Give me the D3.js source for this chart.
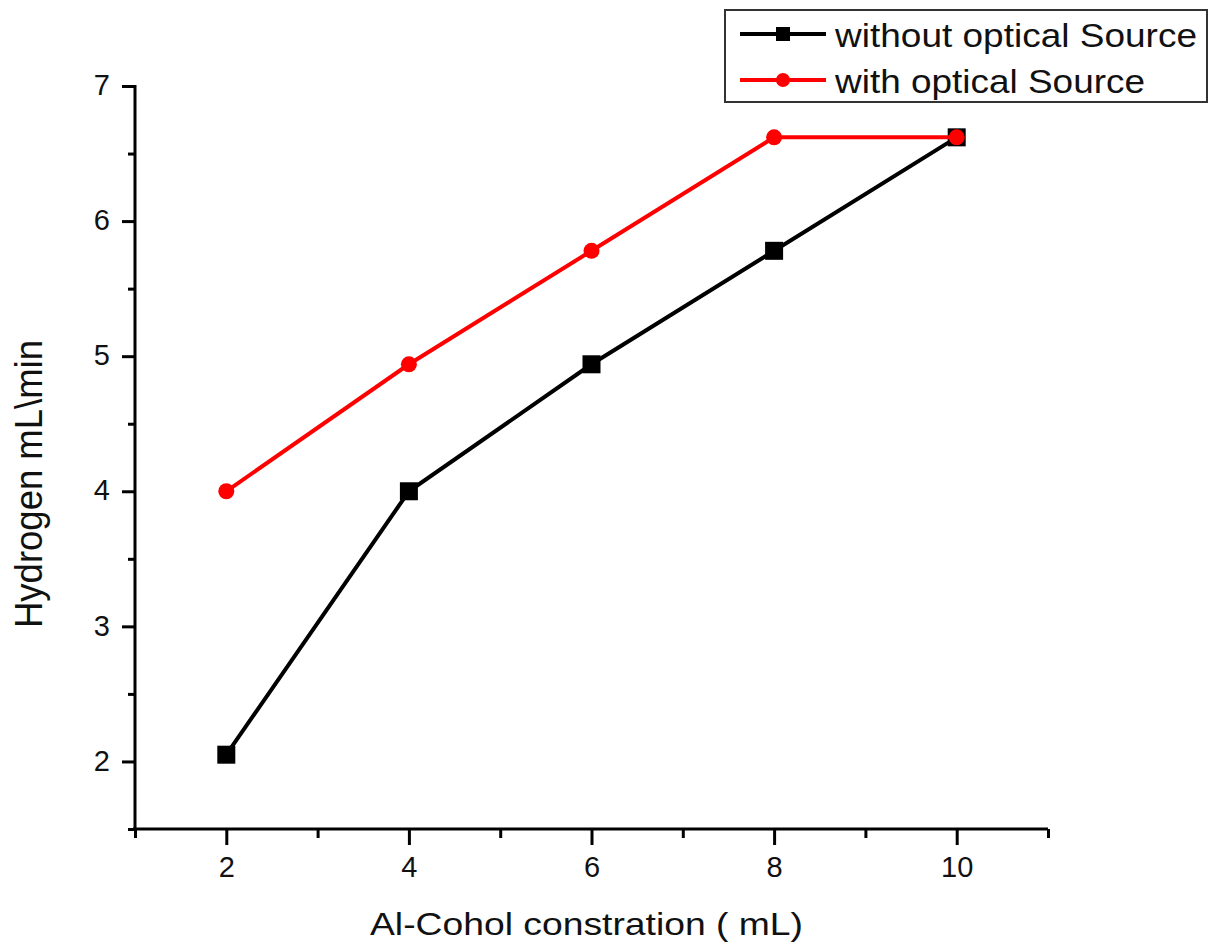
<!DOCTYPE html>
<html>
<head>
<meta charset="utf-8">
<script src="https://cdn.jsdelivr.net/npm/d3@7"></script>
<style>
  html, body { margin: 0; padding: 0; background: #fff; }
  svg { display: block; font-family: Arial, "Liberation Sans", sans-serif; }
</style>
</head>
<body>
<script>
(function(){
'use strict';

// data
var concentration = [2, 4, 6, 8, 10];
var withoutSource = [2.05, 4.0, 4.94, 5.78, 6.62];
var withSource = [4.0, 4.94, 5.78, 6.62, 6.62];
var seriesNames = ['without optical Source', 'with optical Source'];
var xTicks = [2, 4, 6, 8, 10];
var yTicks = [2, 3, 4, 5, 6, 7];

var W = 1208, H = 946;
var left = 135, right = 1048, top = 86, bottom = 829;
var FONT = 'Arial, "Liberation Sans", sans-serif';

var svg = d3.select('body').append('svg')
	.attr('width', W)
	.attr('height', H);

var x = d3.scaleLinear().domain([1, 11]).range([left, right]);
var y = d3.scaleLinear().domain([1.5, 7]).range([bottom, top]);

// minor ticks first, then the major axis on top
var xMinor = d3.range(1, 12, 2);
var yMinor = d3.range(1.5, 7, 1);

svg.append('g')
	.attr('transform', 'translate(0,' + bottom + ')')
	.call(d3.axisBottom(x).tickValues(xMinor).tickSize(9).tickFormat(''))
	.call(function(g){ g.select('.domain').remove(); })
	.selectAll('line').attr('stroke-width', 3);

svg.append('g')
	.attr('transform', 'translate(' + left + ',0)')
	.call(d3.axisLeft(y).tickValues(yMinor).tickSize(7).tickFormat(''))
	.call(function(g){ g.select('.domain').remove(); })
	.selectAll('line').attr('stroke-width', 3);

var xAxis = svg.append('g')
	.attr('transform', 'translate(0,' + bottom + ')')
	.call(d3.axisBottom(x).tickValues(xTicks).tickSize(16).tickSizeOuter(0).tickPadding(11).tickFormat(d3.format('d')));
xAxis.attr('font-family', FONT).attr('font-size', 29);
xAxis.select('.domain').attr('stroke-width', 3).attr('d', 'M' + (left - 2) + ',0H' + right);
xAxis.selectAll('.tick line').attr('stroke-width', 3);
xAxis.selectAll('text').attr('fill', '#111');

var yAxis = svg.append('g')
	.attr('transform', 'translate(' + left + ',0)')
	.call(d3.axisLeft(y).tickValues(yTicks).tickSize(13).tickSizeOuter(0).tickPadding(12).tickFormat(d3.format('d')));
yAxis.attr('font-family', FONT).attr('font-size', 29);
yAxis.select('.domain').attr('stroke-width', 3).attr('d', 'M0,' + (top - 1) + 'V' + (bottom + 1));
yAxis.selectAll('.tick line').attr('stroke-width', 3);
yAxis.selectAll('text').attr('fill', '#111').attr('dy', '0.3em');

// axis titles
svg.append('text')
	.attr('x', 370)
	.attr('y', 935)
	.attr('font-size', 32)
	.attr('textLength', 433)
	.attr('lengthAdjust', 'spacingAndGlyphs')
	.attr('fill', '#111')
	.text('Al-Cohol constration ( mL)');

svg.append('text')
	.attr('transform', 'translate(42,628) scale(1.1,1) rotate(-90)')
	.attr('font-size', 35)
	.attr('textLength', 288)
	.attr('lengthAdjust', 'spacingAndGlyphs')
	.attr('fill', '#111')
	.text('Hydrogen mL\\min');

var line = d3.line()
	.x(function(d){ return x(d[0]); })
	.y(function(d){ return y(d[1]); });

var blackPts = concentration.map(function(c, i){ return [c, withoutSource[i]]; });
var redPts = concentration.map(function(c, i){ return [c, withSource[i]]; });

svg.append('path')
	.datum(blackPts)
	.attr('d', line)
	.attr('fill', 'none')
	.attr('stroke', '#000')
	.attr('stroke-width', 4);

svg.selectAll('rect.pt')
	.data(blackPts)
	.enter()
	.append('rect')
	.attr('class', 'pt')
	.attr('x', function(d){ return x(d[0]) - 9; })
	.attr('y', function(d){ return y(d[1]) - 9; })
	.attr('width', 18)
	.attr('height', 18)
	.attr('fill', '#000');

svg.append('path')
	.datum(redPts)
	.attr('d', line)
	.attr('fill', 'none')
	.attr('stroke', '#ff0000')
	.attr('stroke-width', 4);

svg.selectAll('circle.pt')
	.data(redPts)
	.enter()
	.append('circle')
	.attr('class', 'pt')
	.attr('cx', function(d){ return x(d[0]); })
	.attr('cy', function(d){ return y(d[1]); })
	.attr('r', 8)
	.attr('fill', '#ff0000');

// legend
var legend = svg.append('g');
legend.append('rect')
	.attr('x', 725)
	.attr('y', 10)
	.attr('width', 482)
	.attr('height', 92)
	.attr('fill', '#fff')
	.attr('stroke', '#333')
	.attr('stroke-width', 2);

var legColors = ['#000', '#ff0000'];
var legLengths = [362, 310];
seriesNames.forEach(function(name, i){
	var ly = 34 + i * 46;
	legend.append('line')
		.attr('x1', 740).attr('x2', 826)
		.attr('y1', ly).attr('y2', ly)
		.attr('stroke', legColors[i])
		.attr('stroke-width', 4);
	if(i === 0){
		legend.append('rect')
			.attr('x', 776).attr('y', ly - 7)
			.attr('width', 14).attr('height', 14)
			.attr('fill', '#000');
	} else {
		legend.append('circle')
			.attr('cx', 783).attr('cy', ly)
			.attr('r', 7)
			.attr('fill', '#ff0000');
	}
	legend.append('text')
		.attr('x', 835)
		.attr('y', ly + 13)
		.attr('font-size', 34)
		.attr('textLength', legLengths[i])
		.attr('lengthAdjust', 'spacingAndGlyphs')
		.attr('fill', '#111')
		.text(name);
});

})();
</script>
</body>
</html>
